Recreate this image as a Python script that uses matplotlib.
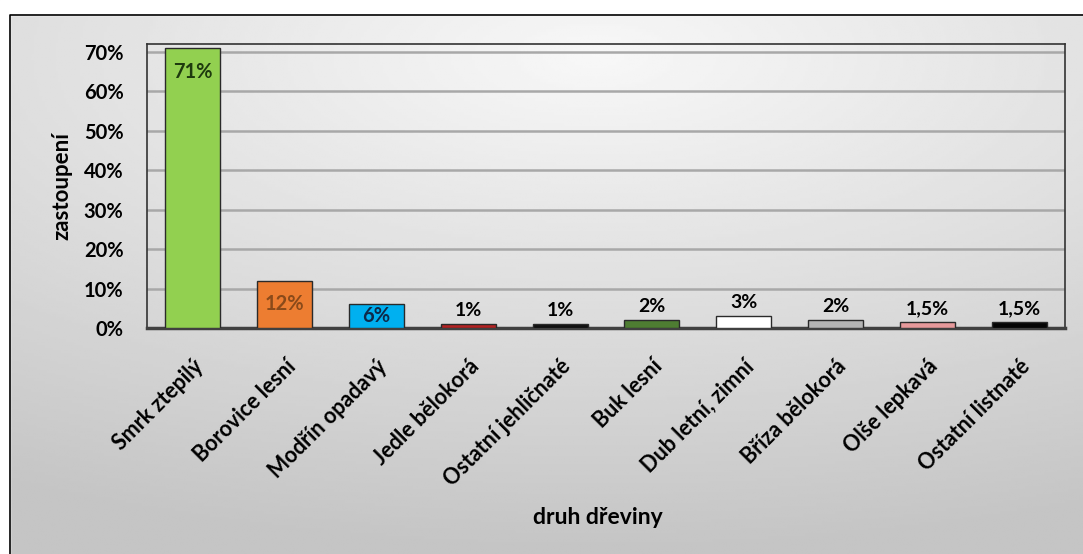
import numpy as np
import matplotlib
matplotlib.use("Agg")
import matplotlib.pyplot as plt
from matplotlib.patches import Rectangle

plt.rcParams['font.family'] = ['Lato', 'DejaVu Sans']

# data
druhy = ["Smrk ztepilý", "Borovice lesní", "Modřín opadavý", "Jedle bělokorá",
         "Ostatní jehličnaté", "Buk lesní", "Dub letní, zimní", "Bříza bělokorá",
         "Olše lepkavá", "Ostatní listnaté"]
zastoupeni = [0.71, 0.12, 0.06, 0.01, 0.01, 0.02, 0.03, 0.02, 0.015, 0.015]
popisky = ["71%", "12%", "6%", "1%", "1%", "2%", "3%", "2%", "1,5%", "1,5%"]
barvy = ["#92D050", "#ED7D31", "#00B0F0", "#B22222", "#111111",
         "#4E7D32", "#FFFFFF", "#B4B4B4", "#E6999B", "#050505"]
barvy_popisku = ["#1E3A0E", "#8A4A1A", "#0E2A4A", "black", "black",
                 "black", "black", "black", "black", "black"]

W, H = 1083, 554
fig = plt.figure(figsize=(W / 100, H / 100), dpi=100)

# background with soft gradient (chart area)
bg = fig.add_axes([0, 0, 1, 1], zorder=0)
bg.set_axis_off()
yy, xx = np.mgrid[0:1:200j, 0:1:400j]
r = np.sqrt(((xx - 0.55) / 1.1) ** 2 + ((yy - 0.1) / 0.9) ** 2)
shade = 0.97 - 0.2 * np.clip(r, 0, 1)
bg.imshow(shade, cmap="gray", vmin=0, vmax=1, extent=[0, 1, 0, 1],
          origin="upper", aspect="auto")
bg.set_xlim(0, 1)
bg.set_ylim(0, 1)
# white strip above chart area, and border
bg.add_patch(Rectangle((0, 1 - 15 / H), 1, 15 / H, color="white", zorder=2))
bg.add_patch(Rectangle((0, 0), 10 / W, 1, color="white", zorder=2))
bg.plot([10 / W, 10 / W, 1], [0, 1 - 15 / H, 1 - 15 / H], color="black", lw=1.2, zorder=3)

# plot area
left, right, top, bottom = 147, 1065, 44, 328
ax = fig.add_axes([left / W, 1 - bottom / H, (right - left) / W, (bottom - top) / H], zorder=1)
ax.patch.set_alpha(0)

x = np.arange(len(druhy))
ax.bar(x, zastoupeni, width=0.6, color=barvy, edgecolor="#2A2A2A", linewidth=1.0, zorder=3)

ax.set_xlim(-0.5, len(druhy) - 0.5)
ax.set_ylim(0, 0.72)
ax.set_yticks(np.arange(0, 0.71, 0.1))
ax.set_yticklabels([f"{int(round(v * 100))}%" for v in np.arange(0, 0.71, 0.1)],
                   fontsize=14.5, fontweight="bold")
ax.yaxis.grid(True, color="#A8A8A8", lw=1.8, zorder=0)
ax.set_axisbelow(True)
ax.tick_params(axis="y", length=0, pad=17)
ax.tick_params(axis="x", length=0, pad=20)

for s in ["top", "right", "left"]:
    ax.spines[s].set_color("#333333")
    ax.spines[s].set_linewidth(1.2)
ax.spines["bottom"].set_color("#404040")
ax.spines["bottom"].set_linewidth(2.5)

ax.set_xticks(x)
ax.set_xticklabels(druhy, rotation=45, ha="right", rotation_mode="anchor",
                   fontsize=15.5, fontweight="bold")

# data labels
for i, (v, t, c) in enumerate(zip(zastoupeni, popisky, barvy_popisku)):
    if i == 0:
        ax.text(i, v - 0.062, t, ha="center", va="center", fontsize=14.5, fontweight="bold", color=c, zorder=4)
    elif i in (1, 2):
        ax.text(i, v / 2, t, ha="center", va="center", fontsize=14.5, fontweight="bold", color=c, zorder=4)
    else:
        ax.text(i, v + 0.012, t, ha="center", va="bottom", fontsize=14, fontweight="bold", color=c, zorder=4)

ax.set_ylabel("zastoupení", fontsize=16, fontweight="bold", labelpad=8)
fig.text(598 / W, 1 - 517 / H, "druh dřeviny", ha="center", va="center",
         fontsize=16.5, fontweight="bold")

fig.savefig("out.png", dpi=100)
